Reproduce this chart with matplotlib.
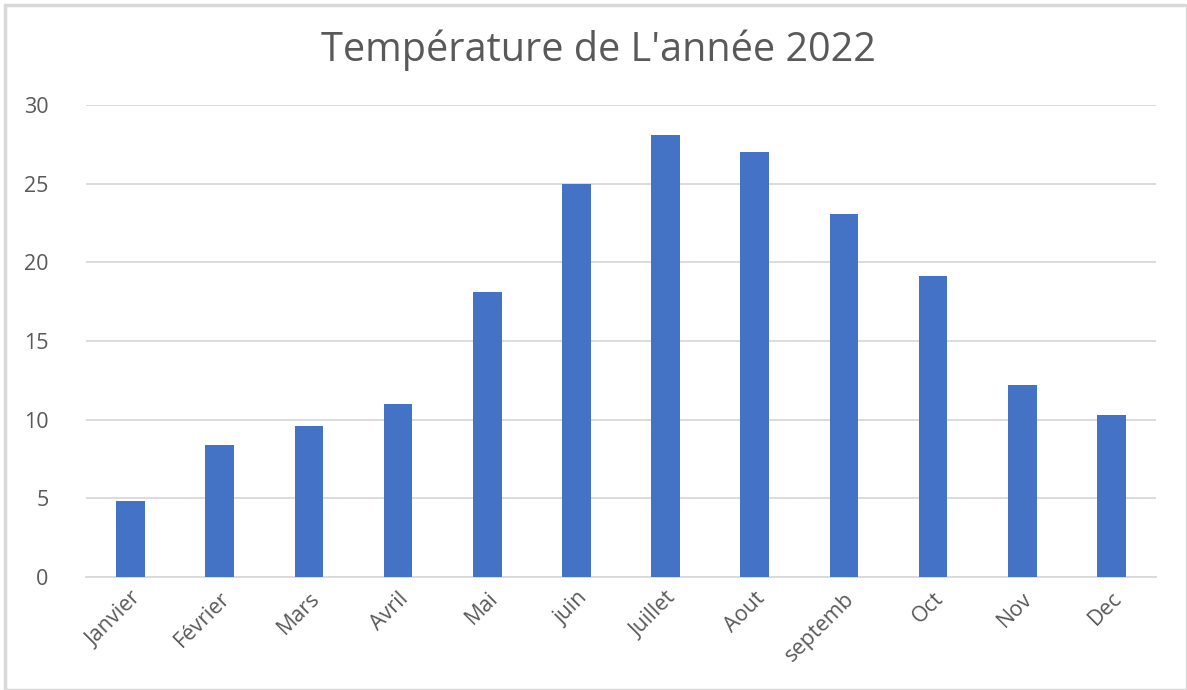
import matplotlib
matplotlib.use("Agg")
import matplotlib.pyplot as plt
from matplotlib.patches import Rectangle

months = ["Janvier", "Février", "Mars", "Avril", "Mai", "juin", "Juillet",
          "Aout", "septemb", "Oct", "Nov", "Dec"]
temperatures = [4.8, 8.4, 9.6, 11.0, 18.1, 25.0, 28.1, 27.0, 23.1, 19.1, 12.2, 10.3]
yticks = [0, 5, 10, 15, 20, 25, 30]
title = "Température de L'année 2022"

plt.rcParams['font.family'] = ['Open Sans', 'DejaVu Sans']

W, H = 1187, 690
fig = plt.figure(figsize=(W / 100, H / 100), dpi=100)
fig.patch.set_facecolor('white')

# outer border like the chart frame
fig.add_artist(Rectangle((5 / W, 0), 1 - 5 / W, 1 - 5 / H, transform=fig.transFigure,
                         fill=False, edgecolor='#d9d9d9', linewidth=2.5))

ax = fig.add_axes([86 / W, 1 - 577 / H, (1156 - 86) / W, (577 - 105) / H])
x = range(len(months))
ax.bar(x, temperatures, width=0.32, color='#4472c4', zorder=3)
ax.set_xlim(-0.5, len(months) - 0.5)
ax.set_ylim(0, 30)
ax.set_yticks(yticks)
ax.set_yticklabels([str(v) for v in yticks], fontsize=15.5, color='#595959')
ax.set_xticks(list(x))
ax.set_xticklabels(months, rotation=45, ha='right', rotation_mode='anchor',
                   fontsize=15.5, color='#595959')
ax.grid(axis='y', color='#d9d9d9', linewidth=1.3, zorder=0)
for s in ['top', 'right', 'left']:
    ax.spines[s].set_visible(False)
ax.spines['bottom'].set_color('#d9d9d9')
ax.spines['bottom'].set_linewidth(1.3)
ax.tick_params(axis='both', length=0)
ax.tick_params(axis='y', pad=27)
ax.tick_params(axis='x', pad=8)

fig.text(598 / W, 1 - 50 / H, title, ha='center', va='center', fontsize=28.5, color='#595959')

fig.savefig('out.png', dpi=100)
